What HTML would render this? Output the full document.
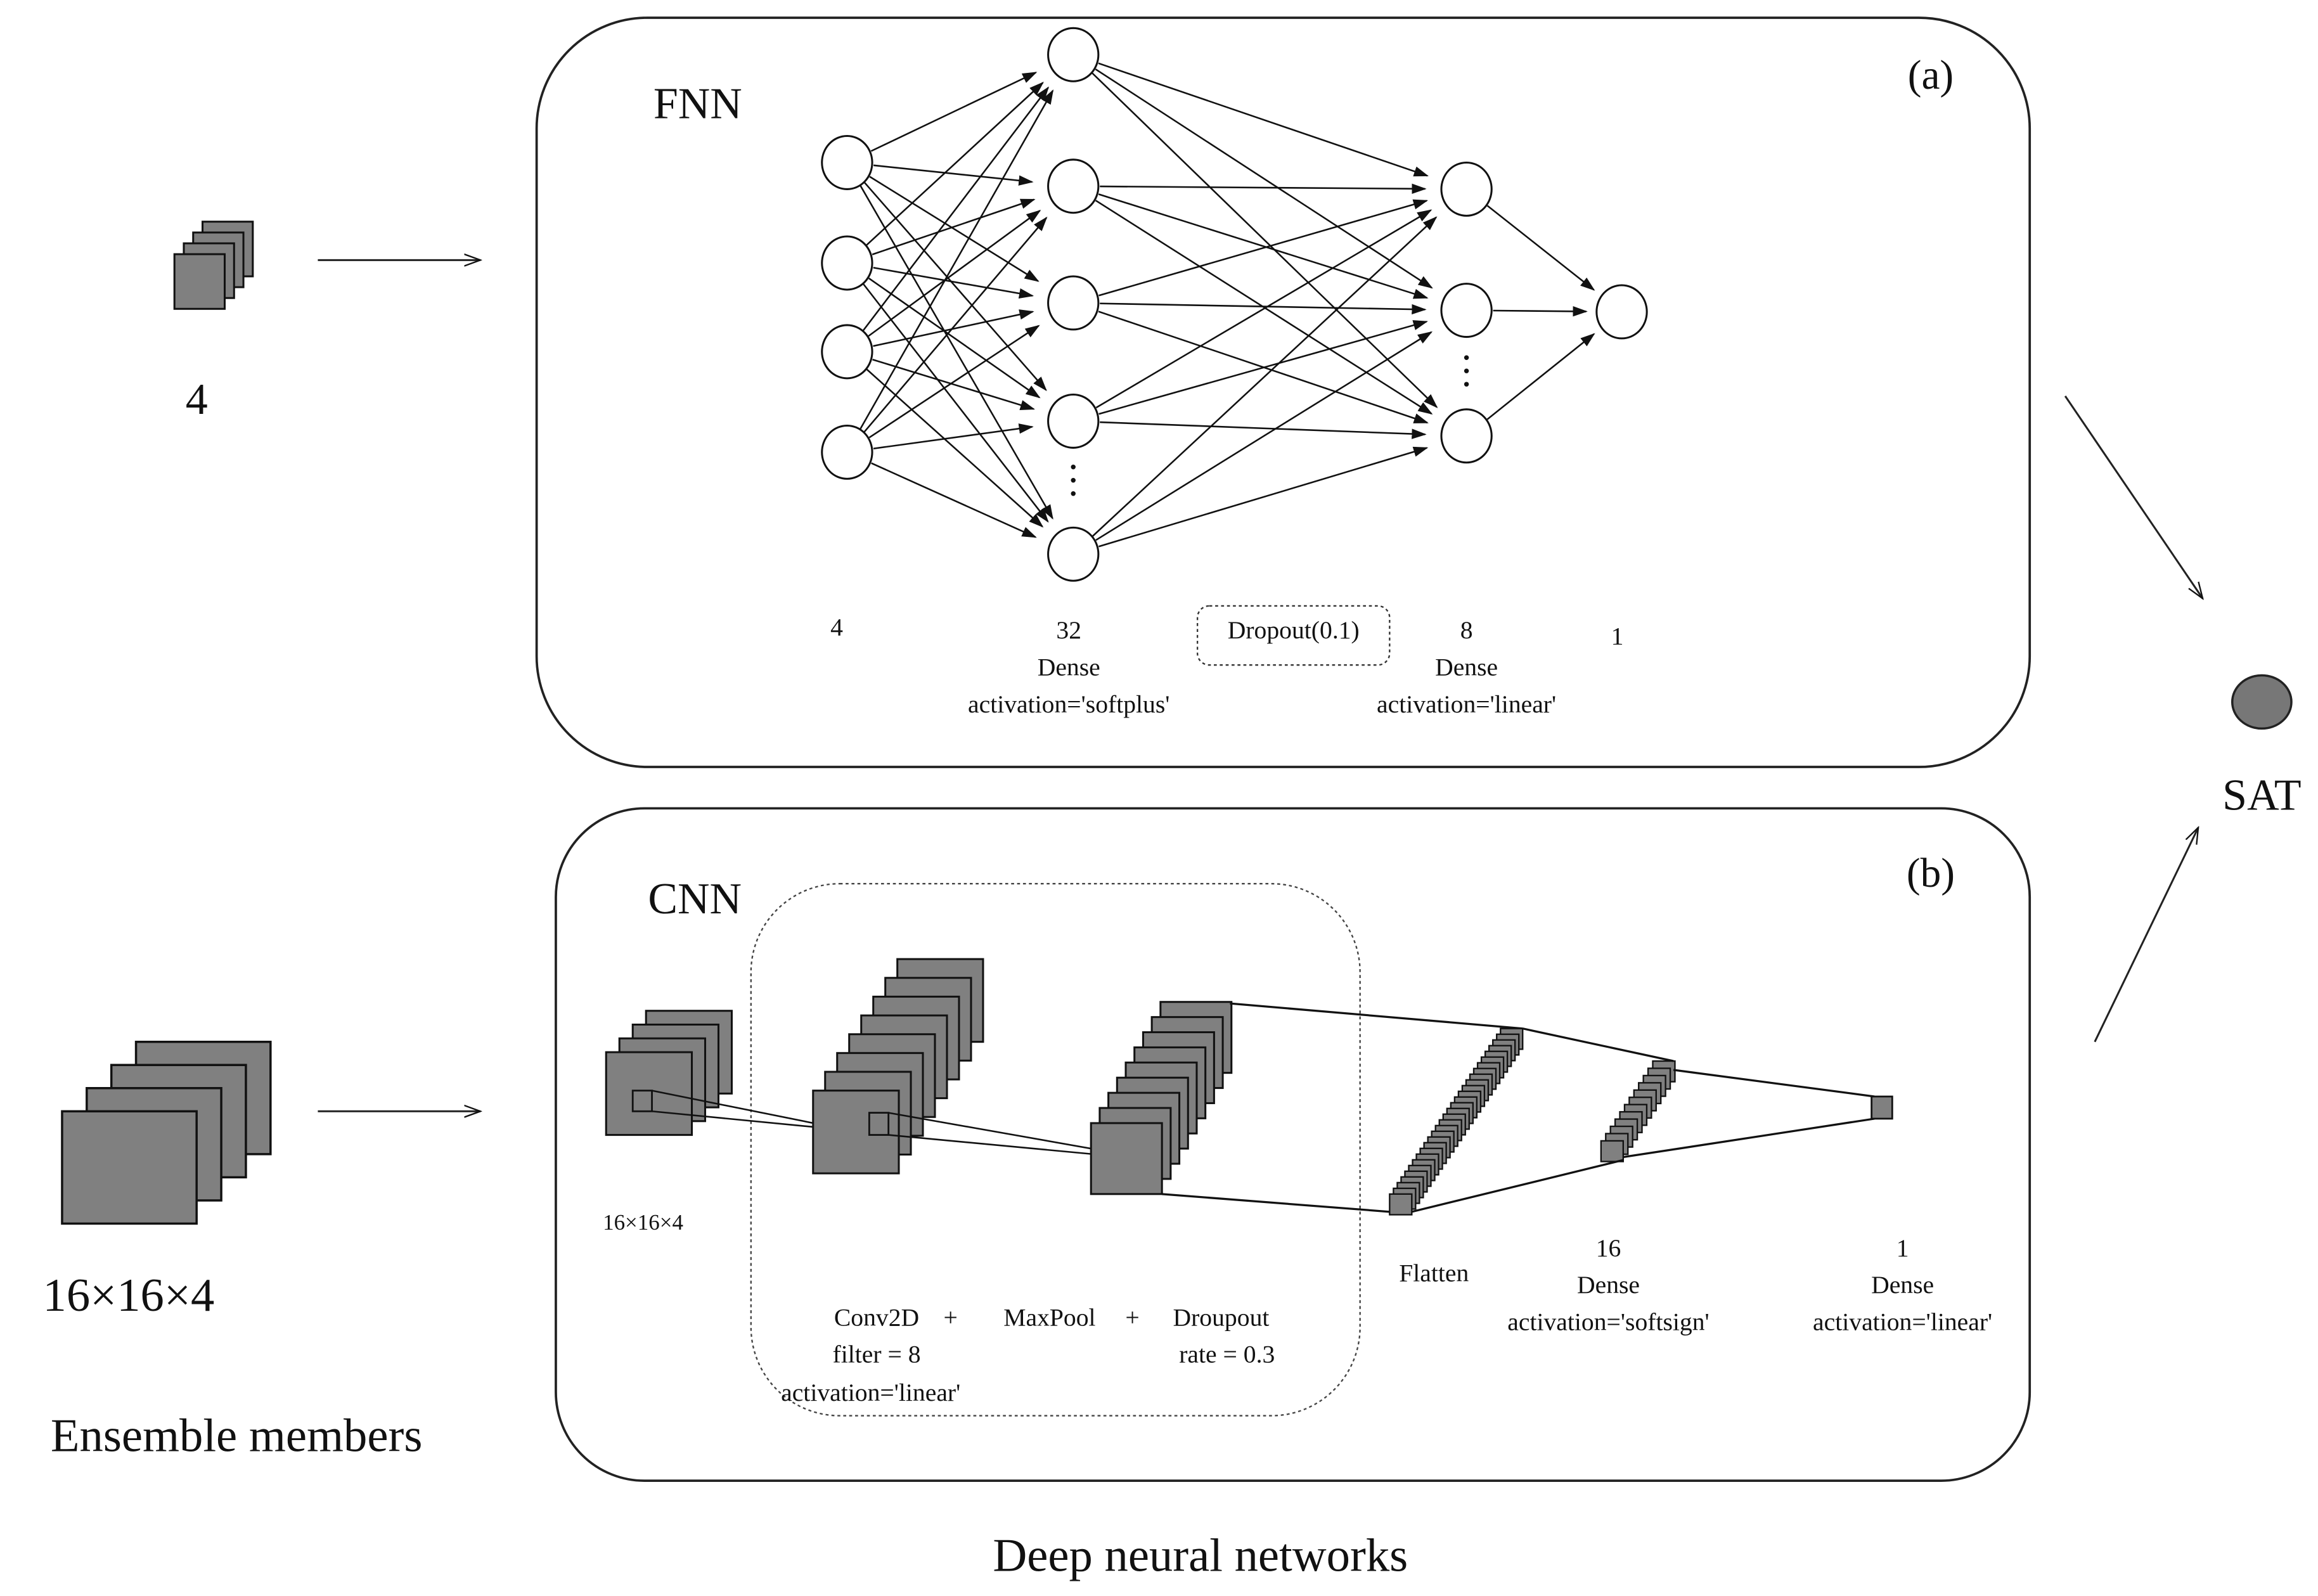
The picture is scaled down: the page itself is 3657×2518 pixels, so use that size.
<!DOCTYPE html>
<html><head><meta charset="utf-8"><style>
html,body{margin:0;padding:0;background:#fff;}
svg{display:block;}
text{font-family:"Liberation Serif",serif;fill:#111;}
</style></head><body>
<svg id="s" width="3657" height="2518" viewBox="0 0 1568 1080" preserveAspectRatio="none" xmlns="http://www.w3.org/2000/svg">
<defs>
<marker id="ah" markerWidth="10" markerHeight="8" refX="9" refY="4" orient="auto" markerUnits="userSpaceOnUse"><path d="M0,0.5 L10,4 L0,7.5 z" fill="#111"/></marker>
<marker id="ah2" markerWidth="12" markerHeight="10" refX="11" refY="5" orient="auto" markerUnits="userSpaceOnUse"><path d="M0,1 L11,5 L0,9" fill="none" stroke="#111" stroke-width="1"/></marker>
</defs>
<rect x="0" y="0" width="1568" height="1080" fill="#fff"/>
<rect x="363" y="12" width="1010" height="507" rx="75" fill="none" stroke="#222" stroke-width="1.6"/>
<rect x="376" y="547" width="997" height="455" rx="60" fill="none" stroke="#222" stroke-width="1.6"/>
<rect x="508" y="598" width="412" height="360" rx="60" fill="none" stroke="#444" stroke-width="1" stroke-dasharray="2,2"/>
<g id="g"></g>
<text x="472" y="80" font-size="30" text-anchor="middle">FNN</text>
<text x="1306" y="60" font-size="28" text-anchor="middle">(a)</text>
<text x="470" y="618" font-size="30" text-anchor="middle">CNN</text>
<text x="1306" y="600" font-size="28" text-anchor="middle">(b)</text>
<g font-size="17" text-anchor="middle">
<text x="566" y="430">4</text>
<text x="723" y="432">32</text><text x="723" y="457">Dense</text><text x="723" y="482">activation='softplus'</text>
<rect x="810" y="410" width="130" height="40" rx="8" fill="none" stroke="#333" stroke-dasharray="2,2"/>
<text x="875" y="432">Dropout(0.1)</text>
<text x="992" y="432">8</text><text x="992" y="457">Dense</text><text x="992" y="482">activation='linear'</text>
<text x="1094" y="436">1</text>
<text x="435" y="832" font-size="15">16×16×4</text>
<text x="970" y="867">Flatten</text>
<text x="1088" y="850">16</text><text x="1088" y="875">Dense</text><text x="1088" y="900">activation='softsign'</text>
<text x="1287" y="850">1</text><text x="1287" y="875">Dense</text><text x="1287" y="900">activation='linear'</text>
<text x="593" y="897">Conv2D</text><text x="643" y="897">+</text><text x="710" y="897">MaxPool</text><text x="766" y="897">+</text><text x="826" y="897">Droupout</text>
<text x="593" y="922">filter = 8</text><text x="830" y="922">rate = 0.3</text>
<text x="589" y="948">activation='linear'</text>
</g>
<text x="133" y="280" font-size="30" text-anchor="middle">4</text>
<text x="87" y="887" font-size="32" text-anchor="middle">16×16×4</text>
<text x="160" y="982" font-size="32" text-anchor="middle">Ensemble members</text>
<text x="812" y="1063" font-size="32" text-anchor="middle">Deep neural networks</text>
<text x="1530" y="548" font-size="30" text-anchor="middle">SAT</text>
<ellipse cx="1530" cy="475" rx="20" ry="18" fill="#777" stroke="#222" stroke-width="1.5"/>
<line x1="215" y1="176" x2="325" y2="176" stroke="#222" stroke-width="1.3" marker-end="url(#ah2)"/>
<line x1="215" y1="752" x2="325" y2="752" stroke="#222" stroke-width="1.3" marker-end="url(#ah2)"/>
<line x1="1397" y1="268" x2="1490" y2="405" stroke="#222" stroke-width="1.3" marker-end="url(#ah2)"/>
<line x1="1417" y1="705" x2="1487" y2="560" stroke="#222" stroke-width="1.3" marker-end="url(#ah2)"/>
</svg>
<script>
var g=document.getElementById('g'),NS='http://www.w3.org/2000/svg';
function el(t,a){var e=document.createElementNS(NS,t);for(var k in a)e.setAttribute(k,a[k]);g.appendChild(e);return e;}
function line(x1,y1,x2,y2,arrow,w){var a={x1:x1,y1:y1,x2:x2,y2:y2,stroke:'#111','stroke-width':w||1.1};if(arrow)a['marker-end']='url(#ah)';el('line',a);}
var L1=[[573,110],[573,178],[573,238],[573,306]],L2=[[726,37],[726,126],[726,205],[726,285],[726,375]],L3=[[992,128],[992,210],[992,295]],O=[1097,211];
function conn(A,B,r){A.forEach(function(a){B.forEach(function(b){var dx=b[0]-a[0],dy=b[1]-a[1],d=Math.hypot(dx,dy);var s=(d-r)/d;line(a[0]+dx*18/d,a[1]+dy*18/d,a[0]+dx*s,a[1]+dy*s,true);});});}
conn(L1,L2,28);conn(L2,L3,28);conn(L3,[O],24);
L1.concat(L2,L3,[O]).forEach(function(p){el('ellipse',{cx:p[0],cy:p[1],rx:17,ry:18,fill:'#fff',stroke:'#111','stroke-width':1.3});});
[[726,316],[726,325],[726,334],[992,242],[992,251],[992,260]].forEach(function(p){el('circle',{cx:p[0],cy:p[1],r:1.6,fill:'#111'});});
function stack(x0,y0,x1,y1,w,h,n,sw){for(var i=n-1;i>=0;i--){var t=n>1?i/(n-1):0;el('rect',{x:x0+(x1-x0)*t,y:y0+(y1-y0)*t,width:w,height:h,fill:'#808080',stroke:'#111','stroke-width':sw||1.3});}}
stack(118,172,137,150,34,37,4);
stack(42,752,92,705,91,76,4,1.5);
stack(410,712,437,684,58,56,4);
el('rect',{x:428,y:738,width:13,height:14,fill:'#808080',stroke:'#111','stroke-width':1.2});
line(441,738,575,765);line(441,752,575,765);
stack(550,738,607,649,58,56,8);
el('rect',{x:588,y:753,width:13,height:15,fill:'#808080',stroke:'#111','stroke-width':1.2});
line(601,753,782,785);line(601,768,782,785);
stack(738,760,785,678,48,48,9);
line(832,679,1030,696,false,1.4);line(786,808,940,820,false,1.4);
stack(940,808,1015,696,15,14,30,1);
stack(1083,772,1118,718,15,14,12,1);
line(1030,696,1132,718,false,1.4);line(955,820,1098,785,false,1.4);
line(1132,724,1268,742,false,1.4);line(1098,783,1268,757,false,1.4);
el('rect',{x:1266,y:742,width:14,height:15,fill:'#808080',stroke:'#111','stroke-width':1.2});
</script>
</body></html>
